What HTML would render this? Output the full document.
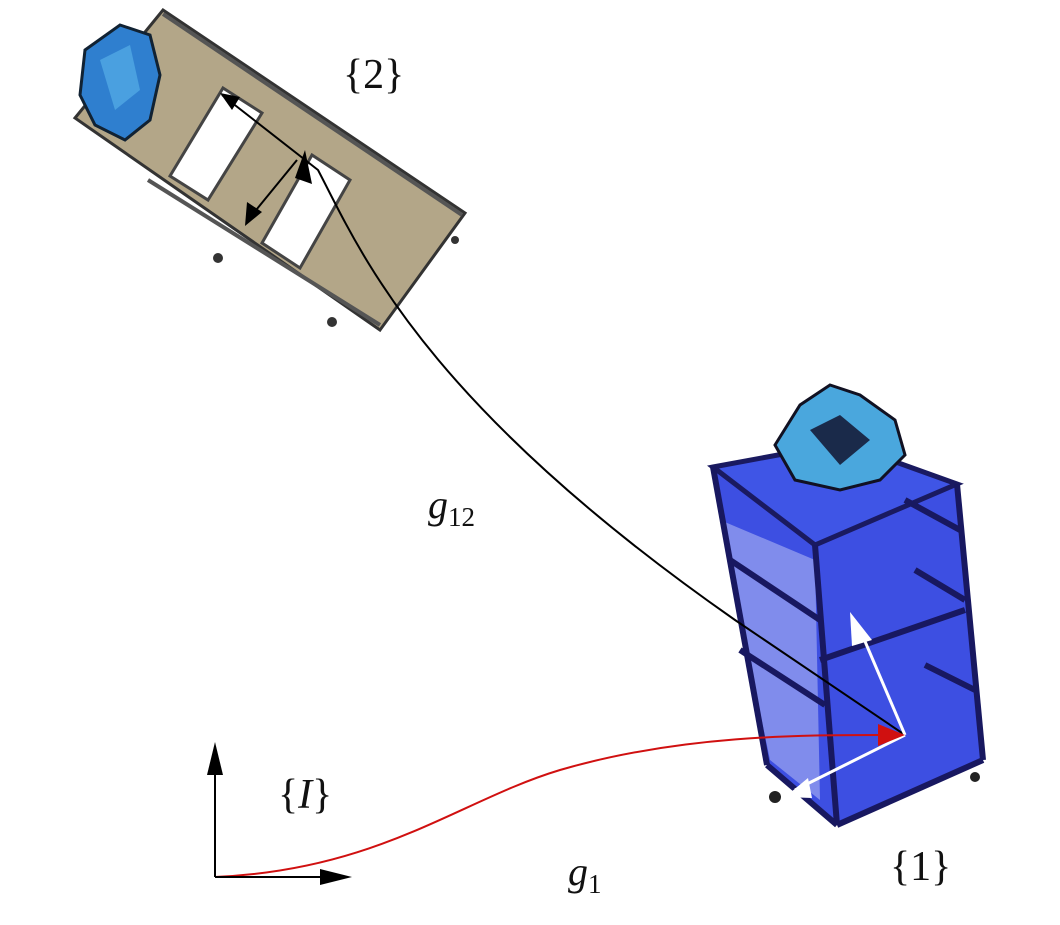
<!DOCTYPE html>
<html><head><meta charset="utf-8"><style>
html,body{margin:0;padding:0;background:#fff;}
svg{display:block}
text{font-family:"Liberation Serif",serif;fill:#111}
</style></head><body>
<svg width="1060" height="925" viewBox="0 0 1060 925" xmlns="http://www.w3.org/2000/svg">
<!-- satellite 2 -->
<g>
<polygon points="163,10 465,213 380,330 75,118" fill="#b3a688" stroke="#333" stroke-width="3"/>
<polygon points="223,88 262,113 208,200 170,176" fill="#fff" stroke="#444" stroke-width="3"/>
<polygon points="312,155 350,180 300,268 262,243" fill="#fff" stroke="#444" stroke-width="3"/>
<line x1="163" y1="14" x2="462" y2="215" stroke="#555" stroke-width="4"/>
<line x1="148" y1="180" x2="380" y2="325" stroke="#555" stroke-width="4"/>
<circle cx="218" cy="258" r="5" fill="#333"/><circle cx="332" cy="322" r="5" fill="#333"/><circle cx="455" cy="240" r="4" fill="#333"/>
<path d="M85,50 L120,25 L150,35 L160,75 L150,120 L125,140 L95,125 L80,95 Z" fill="#2f7fcf" stroke="#123" stroke-width="3"/>
<path d="M100,60 L130,45 L140,90 L115,110 Z" fill="#4aa0e0"/>
<line x1="252" y1="215" x2="297" y2="160" stroke="#000" stroke-width="2"/>
<polygon points="245,226 247,202 262,212" fill="#000"/>
<polygon points="305,150 295,178 312,184" fill="#000"/>
<polygon points="220,93 240,97 232,110" fill="#000"/>
</g>
<!-- satellite 1 -->
<g>
<polygon points="713,470 957,485 983,760 837,825 767,765" fill="#3d4fe2"/>
<polygon points="713,467 843,443 957,484 815,545" fill="#3f55e6" stroke="#1a1a60" stroke-width="5"/>
<polygon points="720,520 815,560 820,800 770,760" fill="#fff" opacity="0.35"/>
<g stroke="#181860" stroke-width="6" fill="none">
<line x1="713" y1="467" x2="767" y2="765"/>
<line x1="815" y1="545" x2="837" y2="825"/>
<line x1="957" y1="484" x2="983" y2="760"/>
<line x1="767" y1="765" x2="837" y2="825"/>
<line x1="837" y1="825" x2="983" y2="760"/>
<line x1="730" y1="560" x2="820" y2="620"/>
<line x1="740" y1="650" x2="825" y2="705"/>
<line x1="820" y1="660" x2="965" y2="610"/>
<line x1="960" y1="530" x2="905" y2="500"/>
<line x1="965" y1="600" x2="915" y2="570"/>
<line x1="975" y1="690" x2="925" y2="665"/>
</g>
<path d="M775,445 L800,405 L830,385 L860,395 L895,420 L905,455 L880,480 L840,490 L795,480 Z" fill="#4aa7dd" stroke="#112" stroke-width="3"/>
<path d="M810,430 L840,415 L870,440 L840,465 Z" fill="#1a2a4a"/>
<circle cx="775" cy="797" r="6" fill="#222"/><circle cx="975" cy="777" r="5" fill="#222"/>
</g>
<!-- g12 curve -->
<path d="M222,95 L318,170 C360,250 420,400 735,620 L905,735" fill="none" stroke="#000" stroke-width="2"/>
<!-- white arrows -->
<line x1="905" y1="735" x2="858" y2="625" stroke="#fff" stroke-width="3"/>
<polygon points="850,612 872,640 852,646" fill="#fff"/>
<line x1="905" y1="735" x2="795" y2="790" stroke="#fff" stroke-width="3"/>
<polygon points="785,797 808,778 812,798" fill="#fff"/>
<!-- red curve -->
<path d="M215,877 C380,870 460,800 560,770 C680,735 800,735 885,735" fill="none" stroke="#d01010" stroke-width="2"/>
<polygon points="905,735 878,724 878,746" fill="#d01010"/>
<!-- frame I -->
<line x1="215" y1="877" x2="215" y2="752" stroke="#000" stroke-width="2"/>
<polygon points="215,742 207,775 223,775" fill="#000"/>
<line x1="215" y1="877" x2="340" y2="877" stroke="#000" stroke-width="2"/>
<polygon points="352,877 320,869 320,885" fill="#000"/>
<!-- labels -->
<text x="343" y="88" font-size="42">{2}</text>
<text x="428" y="518" font-size="40" font-style="italic">g<tspan font-size="27" font-style="normal" dy="8">12</tspan></text>
<text x="278" y="808" font-size="42">{<tspan font-style="italic">I</tspan>}</text>
<text x="568" y="885" font-size="40" font-style="italic">g<tspan font-size="27" font-style="normal" dy="8">1</tspan></text>
<text x="890" y="880" font-size="42">{1}</text>
</svg>
</body></html>
